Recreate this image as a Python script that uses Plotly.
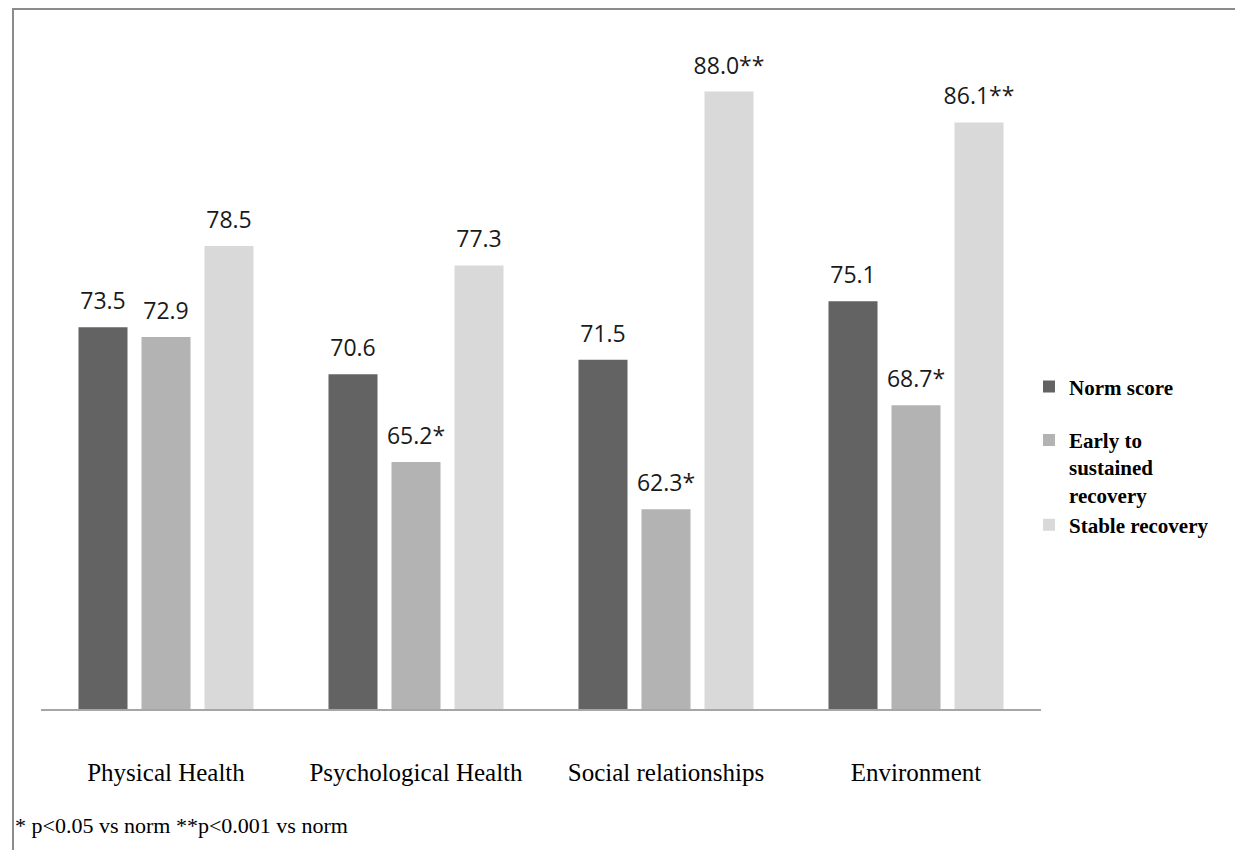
import plotly.graph_objects as go

categories = ["Physical Health", "Psychological Health", "Social relationships", "Environment"]
series_names = ["Norm score", "Early to<br>sustained<br>recovery", "Stable recovery"]
norm_score = [73.5, 70.6, 71.5, 75.1]
early_recovery = [72.9, 65.2, 62.3, 68.7]
stable_recovery = [78.5, 77.3, 88.0, 86.1]
norm_labels = ["73.5", "70.6", "71.5", "75.1"]
early_labels = ["72.9", "65.2*", "62.3*", "68.7*"]
stable_labels = ["78.5", "77.3", "88.0**", "86.1**"]
footnote = "* p<0.05 vs norm **p<0.001 vs norm"

colors = ["#636363", "#b3b3b3", "#d9d9d9"]
legend_groups = ["g1", "g2", "g2"]
series = [norm_score, early_recovery, stable_recovery]
labels = [norm_labels, early_labels, stable_labels]

fig = go.Figure()
for i, (name, vals, col) in enumerate(zip(series_names, series, colors)):
    fig.add_trace(go.Bar(
        x=categories, y=vals, name=name, marker_color=col,
        marker_line_width=0, offsetgroup=str(i), hoverinfo="skip",
        legendgroup=legend_groups[i],
    ))
for i, (vals, labs) in enumerate(zip(series, labels)):
    fig.add_trace(go.Scatter(
        x=categories, y=vals, text=labs, mode="markers+text",
        textposition="top center", offsetgroup=str(i), showlegend=False,
        marker=dict(size=18, color="rgba(0,0,0,0)"),
        textfont=dict(family="Open Sans", size=23, color="#1a1a1a"),
        cliponaxis=False, hoverinfo="skip",
    ))

fig.add_annotation(
    text=footnote, xref="paper", yref="paper", x=-0.028, y=-0.179,
    xanchor="left", yanchor="middle", showarrow=False,
    font=dict(family="Liberation Serif", size=22, color="black"),
)
fig.add_shape(
    type="rect", xref="paper", yref="paper",
    x0=-0.028, x1=1.3, y0=-0.4, y1=1.0769,
    line=dict(color="#8c8c8c", width=2), fillcolor="rgba(0,0,0,0)",
)

fig.update_layout(
    width=1243, height=850,
    margin=dict(l=33, r=210, t=51, b=148.6),
    paper_bgcolor="white", plot_bgcolor="white",
    barmode="group", bargap=0.244, bargroupgap=0.222,
    scattermode="group", scattergap=0.244,
    showlegend=True,
    legend=dict(
        x=0.988, y=0.527, xanchor="left", yanchor="top",
        font=dict(family="Liberation Serif", size=21, color="black", weight="bold"),
        valign="top", itemwidth=30, bgcolor="rgba(0,0,0,0)",
        traceorder="grouped", tracegroupgap=23,
    ),
    xaxis=dict(
        showline=True, linecolor="#a6a6a6", linewidth=2, showgrid=False,
        ticks="", ticklabelstandoff=40,
        tickfont=dict(family="Liberation Serif", size=25, color="black"),
    ),
    yaxis=dict(range=[50, 90], visible=False, showgrid=False, zeroline=False),
)

fig.write_html("out.html")
